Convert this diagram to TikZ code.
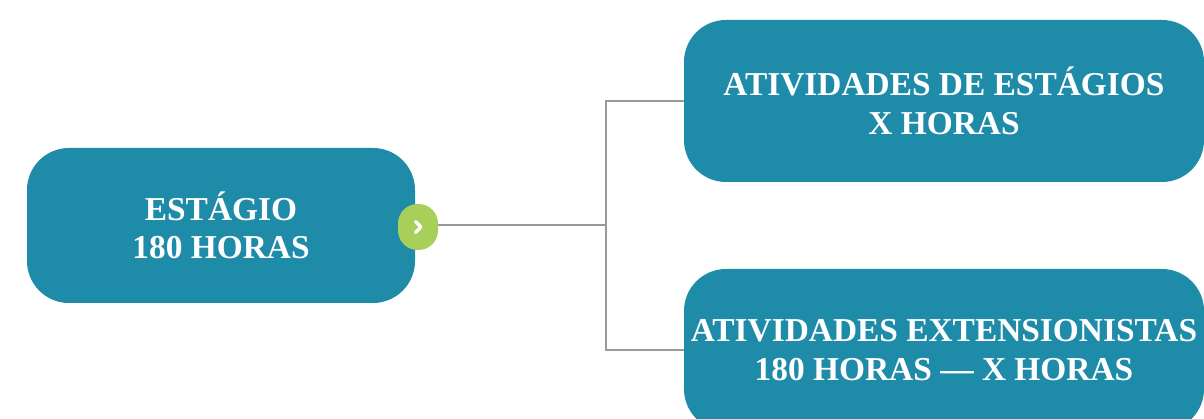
\documentclass[tikz,border=0pt]{standalone}
\usepackage{fontspec}
\setmainfont{Liberation Serif}
\definecolor{boxblue}{HTML}{1E8BA8}
\definecolor{togglegreen}{HTML}{A8CF5A}
\definecolor{linegray}{HTML}{9A9A9A}
\begin{document}
\begin{tikzpicture}[x=1pt,y=-1pt,
  topic/.style={fill=boxblue, draw=none, rounded corners=42pt, text=white,
    align=center, inner sep=0pt,
    font=\bfseries\fontsize{33.4}{38.5}\selectfont},
  toggle/.style={fill=togglegreen, draw=none, rounded corners=19.5pt,
    minimum width=40pt, minimum height=46pt, inner sep=0pt},
  link/.style={draw=linegray, line width=2pt}]
\useasboundingbox (0,0) rectangle (1204,419);
\node[topic, minimum width=388pt, minimum height=155pt] (root) at (221,225.5) {ESTÁGIO\\180 HORAS};
\node[topic, minimum width=520pt, minimum height=162pt] (top) at (944,101) {ATIVIDADES DE ESTÁGIOS\\X HORAS};
\node[topic, minimum width=520pt, minimum height=162pt] (bot) at (944,350) {ATIVIDADES EXTENSIONISTAS\\180 HORAS — X HORAS};
\coordinate (junction) at (606,225);
\draw[link] (418,225) -- (junction);
\draw[link] (junction) |- (top.west);
\draw[link] (junction) |- (bot.west);
\node[toggle] (tog) at (418,227) {};
\draw[white, line width=3.4pt, line cap=round, line join=round]
  ([xshift=-2.5pt,yshift=-5.5pt]tog.center) -- ([xshift=3pt]tog.center) -- ([xshift=-2.5pt,yshift=5.5pt]tog.center);
\end{tikzpicture}
\end{document}
